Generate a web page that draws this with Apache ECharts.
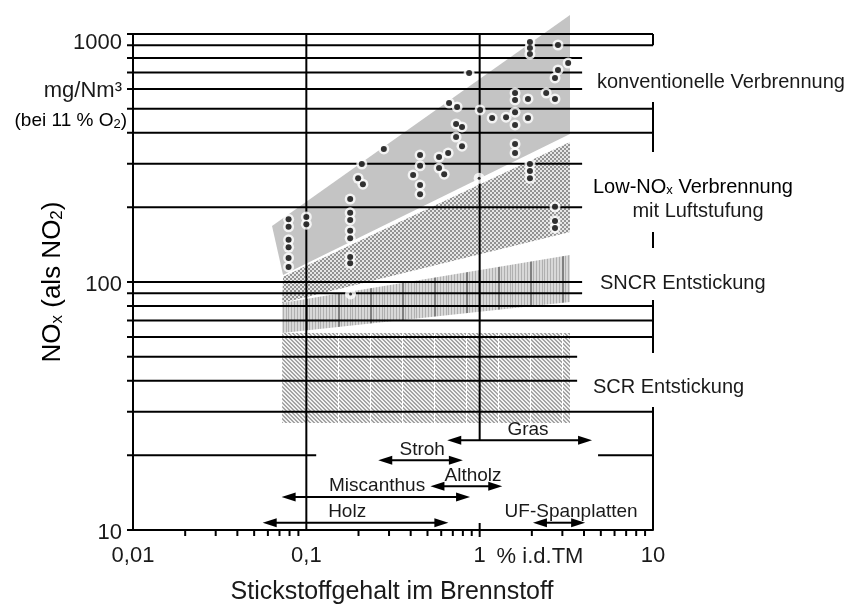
<!DOCTYPE html>
<html><head><meta charset="utf-8">
<script src="https://cdn.jsdelivr.net/npm/echarts@6/dist/echarts.min.js"></script>
<style>html,body{margin:0;padding:0;background:#fff}#c{width:853px;height:610px}</style>
</head><body><div id="c"></div>
<script>
// ---------- data ----------
const gridValues = [1000,900,800,700,600,500,400,300,200,100,90,80,70,60,50,40,30];
const gridEnds   = [10,10,3.9,3.9,3.9,10,10,3.9,3.9,3.9,3.9,10,10,10,3.65,3.65,10];
const line20 = [[0.01,0.114],[4.82,10]];
const rightBars = [[1000,900],[532,334],[159,137],[84.6,51.7],[31.3,10]];
const vLines = [[0.1,10,1000],[1,23,1000]];
const xMinor = [0.02,0.03,0.04,0.05,0.06,0.07,0.08,0.09,0.2,0.3,0.4,0.5,0.6,0.7,0.8,0.9,2,3,4,5,6,7,8,9];

const zoneConv  = [[0.0634,168],[3.32,1193],[3.32,395],[0.0734,106.7]];
const zoneLow   = [[0.0734,105],[3.32,367],[3.32,159],[0.0725,82.3]];
const zoneSNCR  = [[0.0725,82.3],[3.32,128.5],[3.32,83.1],[0.0725,62.3]];
const zoneSCR   = [[0.0725,62.3],[3.32,62.3],[3.32,27],[0.0725,27]];

const ptsX = [0.079,0.079,0.079,0.079,0.079,0.079,0.1,0.1,
  0.179,0.179,0.179,0.179,0.179,0.179,0.179,
  0.209,0.199,0.212,0.28,
  0.453,0.453,0.413,0.453,0.453,
  0.583,0.658,0.583,0.624,
  0.666,0.741,0.731,0.791,0.731,0.791,
  0.869,1.006,1.18,1.42,
  1.6,1.6,1.6,1.6,1.6,1.6,
  1.9,1.9,1.95,1.95,1.95,1.95,1.95,1.95,
  2.42,2.72,2.72,2.83,3.24,2.83,2.72,2.72,2.72];
const ptsY = [179,167,148,138,125,115,183,171,
  216,190,178,161,150,126,119,
  299,262,248,344,
  325,294,270,246,226,
  319,331,288,272,
  527,508,434,422,384,353,
  696,494,458,462,
  578,542,484,430,360,331,
  547,458,928,878,830,299,280,262,
  578,547,665,716,764,903,201,176,165];
const openX = [0.18,0.993];
const openY = [89.5,262];

const rangeNames = ['Gras','Stroh','Altholz','Miscanthus','Holz','UF-Spanplatten'];
const rangeFrom  = [0.65,0.26,0.52,0.072,0.056,2.03];
const rangeTo    = [4.45,0.80,1.35,0.88,0.66,4.06];
const rangeLevel = [23,19.1,15.0,13.6,10.7,10.7];
const rangeLabelAt = [1.90,0.466,0.916,0.256,0.172,3.37];

// ---------- styles ----------
const FONT = '"Liberation Sans", Arial, sans-serif';
const TXT = '#1a1a1a';
function tile(w,h,draw){const c=document.createElement('canvas');c.width=w;c.height=h;draw(c.getContext('2d'));return c;}
const patDot = tile(4,4,g=>{g.fillStyle='#e6e6e6';g.fillRect(0,0,4,4);g.fillStyle='#929292';g.fillRect(0,0,2,2);g.fillRect(2,2,2,2);});
const patSNCR = tile(32,2,g=>{g.fillStyle='#d8d8d8';g.fillRect(0,0,32,2);g.fillStyle='#b0b0b0';for(let x=0;x<32;x+=3)g.fillRect(x,0,1,2);g.fillStyle='#808080';g.fillRect(18,0,2,2);});
const patSCR = tile(32,4,g=>{g.fillStyle='#f2f2f2';g.fillRect(0,0,32,4);g.fillStyle='#a4a4a4';for(let x=0;x<32;x++){g.fillRect(x,x%4,1,1);g.fillRect(x,(x+1)%4,1,1);}g.fillStyle='#ffffff';g.fillRect(18,0,1,4);});

function zoneSeries(pts, fill){
  return {type:'custom', coordinateSystem:'cartesian2d', silent:true, z:1, clip:false,
    data:[pts[0]],
    renderItem:(p,api)=>({type:'polygon', shape:{points:pts.map(q=>api.coord(q))}, style:{fill:fill, stroke:null}})};
}
function seg(a,b,w){return {type:'line', shape:{x1:a[0],y1:a[1],x2:b[0],y2:b[1]}, style:{stroke:'#000', lineWidth:w||2}};}

const linesSeries = {type:'custom', coordinateSystem:'cartesian2d', silent:true, z:3, clip:false,
  data:[[1,100]],
  renderItem:(p,api)=>{
    const ch=[];
    gridValues.forEach((v,i)=>{
      const a=api.coord([0.01,v]), b=api.coord([gridEnds[i],v]);
      ch.push(seg([a[0]-6,a[1]],b));
    });
    line20.forEach((s,i)=>{const a=api.coord([s[0],20]),b=api.coord([s[1],20]);ch.push(seg([i===0?a[0]-6:a[0],a[1]],b));});
    [1000,100,10].forEach(v=>{const a=api.coord([0.01,v]);ch.push(seg([a[0]-6,a[1]],a));});
    rightBars.forEach(s=>{ch.push(seg(api.coord([10,s[0]]),api.coord([10,s[1]])));});
    vLines.forEach(s=>{ch.push(seg(api.coord([s[0],s[1]]),api.coord([s[0],s[2]])));});
    xMinor.forEach(x=>{const a=api.coord([x,10]);ch.push(seg(a,[a[0],a[1]+6]));});
    const t1=api.coord([1,10]);ch.push(seg([t1[0],t1[1]-7],[t1[0],t1[1]+7]));
    return {type:'group', children:ch};
  }};

const arrowSeries = {type:'custom', coordinateSystem:'cartesian2d', silent:true, z:6, clip:false,
  data:rangeNames.map((n,i)=>[rangeFrom[i],rangeLevel[i]]),
  renderItem:(p,api)=>{
    const i=p.dataIndex;
    const a=api.coord([rangeFrom[i],rangeLevel[i]]), b=api.coord([rangeTo[i],rangeLevel[i]]);
    const y=a[1], L=14, H=4.5;
    const lab=api.coord([rangeLabelAt[i],rangeLevel[i]]);
    return {type:'group', children:[
      seg([a[0]+L-2,y],[b[0]-L+2,y]),
      {type:'polygon', shape:{points:[[a[0],y],[a[0]+L,y-H],[a[0]+L,y+H]]}, style:{fill:'#000'}},
      {type:'polygon', shape:{points:[[b[0],y],[b[0]-L,y-H],[b[0]-L,y+H]]}, style:{fill:'#000'}},
      {type:'text', style:{text:rangeNames[i], x:lab[0], y:y-11, align:'center', verticalAlign:'middle', font:'19px '+FONT, fill:TXT}}
    ]};
  }};

const chart = echarts.init(document.getElementById('c'), null, {renderer:'canvas'});
chart.setOption({
  animation:false,
  backgroundColor:'#fff',
  grid:{left:133, top:34, right:200, bottom:80, outerBoundsMode:'none', containLabel:false},
  xAxis:{type:'log', logBase:10, min:0.01, max:10,
    axisLine:{show:true, lineStyle:{color:'#000', width:2}},
    axisTick:{show:false}, splitLine:{show:false}, minorTick:{show:false}, minorSplitLine:{show:false},
    axisLabel:{margin:15, fontSize:22, fontFamily:FONT, color:TXT,
      formatter:v=>String(Number(v.toPrecision(3))).replace('.',',')}},
  yAxis:{type:'log', logBase:10, min:10, max:1000,
    axisLine:{show:true, lineStyle:{color:'#000', width:2}},
    axisTick:{show:false}, splitLine:{show:false}, minorTick:{show:false}, minorSplitLine:{show:false},
    axisLabel:{margin:11, fontSize:22, fontFamily:FONT, color:TXT,
      formatter:v=>{const s=String(Math.round(v));return s==='1000'?'{t|1000}':'{n|'+s+'}';},
      rich:{t:{fontSize:22, fontFamily:FONT, color:TXT, padding:[18,0,0,0]}, n:{fontSize:22, fontFamily:FONT, color:TXT, padding:[6,0,0,0]}}}},
  series:[
    zoneSeries(zoneConv,'#c4c4c4'),
    zoneSeries(zoneLow,{image:patDot, repeat:'repeat'}),
    zoneSeries(zoneSNCR,{image:patSNCR, repeat:'repeat'}),
    zoneSeries(zoneSCR,{image:patSCR, repeat:'repeat'}),
    linesSeries,
    {type:'scatter', z:4, silent:true, symbol:'circle', symbolSize:11, itemStyle:{color:'#fff'},
      data:ptsX.map((x,i)=>[x,ptsY[i]]).concat(openX.map((x,i)=>[x,openY[i]]))},
    {type:'scatter', z:5, silent:true, symbol:'circle', symbolSize:6, itemStyle:{color:'#000'},
      data:ptsX.map((x,i)=>[x,ptsY[i]])},
    {type:'scatter', z:5, silent:true, symbol:'circle', symbolSize:3, itemStyle:{color:'#000'},
      data:openX.map((x,i)=>[x,openY[i]])},
    arrowSeries
  ],
  graphic:[
    {type:'text', x:122, y:91, style:{text:'mg/Nm³', font:'22px '+FONT, fill:TXT, align:'right', verticalAlign:'middle'}},
    {type:'text', x:127, y:121, style:{text:'{a|(bei 11 % O}{s|2}{a|)}', align:'right', verticalAlign:'middle',
      rich:{a:{fontSize:19, fontFamily:FONT, color:TXT, lineHeight:20}, s:{fontSize:13, fontFamily:FONT, color:TXT, lineHeight:20, verticalAlign:'bottom', padding:[6,0,0,0]}}}},
    {type:'text', x:53, y:282, rotation:Math.PI/2, style:{text:'{a|NO}{s|x}{a| (als NO}{s|2}{a|)}', align:'center', verticalAlign:'middle',
      rich:{a:{fontSize:26, fontFamily:FONT, color:TXT, lineHeight:28}, s:{fontSize:17, fontFamily:FONT, color:TXT, lineHeight:28, padding:[8,0,0,0]}}}},
    {type:'text', x:392, y:592, style:{text:'Stickstoffgehalt im Brennstoff', font:'25px '+FONT, fill:TXT, align:'center', verticalAlign:'middle'}},
    {type:'text', x:540, y:557, style:{text:'% i.d.TM', font:'22px '+FONT, fill:TXT, align:'center', verticalAlign:'middle'}},
    {type:'text', x:597, y:82, style:{text:'konventionelle Verbrennung', font:'20px '+FONT, fill:TXT, align:'left', verticalAlign:'middle'}},
    {type:'text', x:593, y:187, style:{text:'{a|Low-NO}{s|x}{a| Verbrennung}', align:'left', verticalAlign:'middle',
      rich:{a:{fontSize:20, fontFamily:FONT, color:TXT, lineHeight:22}, s:{fontSize:13, fontFamily:FONT, color:TXT, lineHeight:22, padding:[7,0,0,0]}}}},
    {type:'text', x:698, y:211, style:{text:'mit Luftstufung', font:'20px '+FONT, fill:TXT, align:'center', verticalAlign:'middle'}},
    {type:'text', x:600, y:283, style:{text:'SNCR Entstickung', font:'20px '+FONT, fill:TXT, align:'left', verticalAlign:'middle'}},
    {type:'text', x:593, y:387, style:{text:'SCR Entstickung', font:'20px '+FONT, fill:TXT, align:'left', verticalAlign:'middle'}}
  ]
});
</script></body></html>
